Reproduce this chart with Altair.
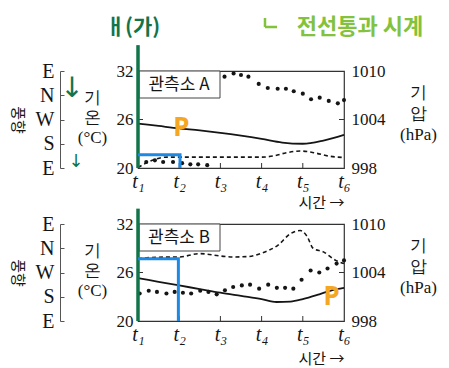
import altair as alt
import pandas as pd

# ---------------- data ----------------
t_ticks = [1, 2, 3, 4, 5, 6]
temp_ticks = [20, 26, 32]
pres_ticks = [998, 1004, 1010]
wind_names = ["E", "S", "W", "N", "E"]   # index 0..4, bottom to top

# Station A
a_temp_t = [1, 1.5, 2, 2.5, 3, 3.5, 4, 4.5, 5, 5.5, 6]
a_temp = [25.5, 25.2, 24.9, 24.65, 24.35, 24.0, 23.6, 23.15, 23.0, 23.4, 24.1]
a_wind_t = [1, 1.45, 1.7, 2, 3, 4, 4.3, 4.6, 4.95, 5.3, 5.6, 6]
a_wind = [0.02, 0.38, 0.45, 0.45, 0.45, 0.45, 0.5, 0.63, 0.7, 0.62, 0.5, 0.43]
a_pres_t = [1.2, 1.41, 1.61, 1.85, 2.07, 2.27, 2.46, 2.68,
            3.1, 3.32, 3.5, 3.68, 3.93, 4.15, 4.39, 4.59, 4.78, 5.0, 5.2, 5.41, 5.63, 5.85, 6.0]
a_pres = [998.75, 998.95, 998.75, 998.75, 998.6, 998.45, 998.45, 998.35,
          1009.3, 1009.7, 1009.5, 1009.3, 1008.4, 1007.9, 1007.8, 1007.8, 1007.5, 1007.2,
          1006.5, 1006.7, 1006.3, 1006.0, 1006.4]

# Station B
b_temp_t = [1, 1.5, 2, 2.5, 3, 3.5, 4, 4.36, 4.7, 5, 5.4, 5.7, 6]
b_temp = [25.3, 24.85, 24.4, 23.95, 23.5, 23.1, 22.7, 22.35, 22.4, 22.7, 23.3, 23.8, 24.1]
b_wind_t = [1, 1.46, 2.0, 2.5, 3.0, 3.3, 3.7, 4.0, 4.4, 4.7, 4.94, 5.1, 5.25, 5.5, 5.8, 6.0]
b_wind = [2.57, 2.63, 2.64, 2.78, 2.68, 2.64, 2.66, 2.8, 3.13, 3.6, 3.73, 3.5, 3.0, 2.85, 2.5, 2.37]
b_pres_t = [1.04, 1.26, 1.46, 1.69, 1.89, 2.09, 2.29, 2.51, 2.71, 2.91, 3.11, 3.31, 3.52,
            3.72, 3.94, 4.16, 4.37, 4.57, 4.77, 4.97, 5.19, 5.40, 5.60, 5.82, 6.0]
b_pres = [1001.4, 1001.75, 1001.6, 1001.4, 1001.6, 1001.5, 1001.4, 1001.75, 1001.6, 1001.3,
          1001.8, 1002.2, 1002.4, 1002.5, 1002.0, 1002.5, 1002.1, 1002.1, 1002.0, 1003.1,
          1004.25, 1004.0, 1004.5, 1005.1, 1005.5]

# hand-drawn marks (in data units)
a_blue_t = [1, 2.02, 2.02]
a_blue_v = [21.65, 21.65, 20]
b_blue_t = [1, 1.98, 1.98]
b_blue_v = [27.7, 27.7, 20]
a_green = [20, 35.2]
b_green = [20, 33.9]
a_p = (2.05, 25.0)
b_p = (5.7, 23.0)

# ---------------- style ----------------
W, H = 206, 97
SERIF = "Liberation Serif"
KR = "Noto Sans CJK KR"
INK = "#151515"
GREEN = "#12744a"
LGREEN = "#82c23c"
BLUE = "#1e88e5"
ORANGE = "#f5a623"

xscale = alt.Scale(domain=[1, 6], nice=False, zero=False)
tscale = alt.Scale(domain=[20, 32], nice=False, zero=False)
pscale = alt.Scale(domain=[998, 1010], nice=False, zero=False)
wscale = alt.Scale(domain=[0, 4], nice=False, zero=False)
one = pd.DataFrame({"k": [0]})


def panel(name, temp_t, temp_v, wind_t, wind_v, pres_t, pres_v,
          blue_t, blue_v, green_v, p_pos, xtitle_y, top_notes):
    x_axis = alt.Axis(values=t_ticks, ticks=False, domain=False, grid=False,
                      labelExpr="'t' + ['', '\u2081', '\u2082', '\u2083', '\u2084', '\u2085', '\u2086'][datum.value]",
                      labelFlush=False, labelFont=SERIF, labelFontStyle="italic",
                      labelFontSize=20, labelPadding=3, labelColor=INK,
                      title="시간 →", titleFont=KR, titleFontSize=15, titleFontWeight="normal",
                      titleColor=INK, titleX=W, titleY=xtitle_y, titleAlign="right",
                      titleBaseline="middle")
    xn = alt.X("t:Q", scale=xscale, axis=x_axis)

    pres = alt.Chart(pd.DataFrame({"t": pres_t, "p": pres_v})).mark_circle(
        size=17, color=INK, opacity=1).encode(
        x=xn,
        y=alt.Y("p:Q", scale=pscale, axis=alt.Axis(
            orient="right", values=pres_ticks, format="d", ticks=False, domain=False, grid=False,
            labelFont=SERIF, labelFontSize=17, labelColor=INK, labelPadding=7,
            labelBaseline="middle",
            title=["기", "압", "(hPa)"], titleAngle=0, titleX=74, titleY=13,
            titleAlign="center", titleBaseline="top", titleLineHeight=21,
            titleFont=SERIF, titleFontSize=17, titleFontWeight="normal", titleColor=INK)))

    wind = alt.Chart(pd.DataFrame({"t": wind_t, "w": wind_v})).mark_line(
        color=INK, strokeWidth=1.6, strokeDash=[4, 3], interpolate="monotone").encode(
        x=xn,
        y=alt.Y("w:Q", scale=wscale, axis=alt.Axis(
            orient="right", offset=-(W + 78), values=[0, 1, 2, 3, 4],
            labelExpr="['E','S','W','N','E'][datum.value]", labelOverlap=False,
            tickSize=4, tickColor="#555", domainColor="#555", grid=False,
            labelAlign="right", labelPadding=-10, labelBaseline="middle",
            labelFont=SERIF, labelFontSize=20, labelColor=INK,
            title="풍향", titleAngle=90, titleX=-43, titleY=H / 2,
            titleAlign="center", titleBaseline="middle",
            titleFont=KR, titleFontSize=15, titleFontWeight="normal", titleColor=INK)))

    temp = alt.Chart(pd.DataFrame({"t": temp_t, "v": temp_v})).mark_line(
        color=INK, strokeWidth=1.8, interpolate="monotone").encode(
        x=xn,
        y=alt.Y("v:Q", scale=tscale, axis=alt.Axis(
            orient="left", values=temp_ticks, ticks=False, domain=False, grid=False,
            labelFont=SERIF, labelFontSize=17, labelColor=INK, labelPadding=5,
            labelBaseline="middle",
            title=["기", "온", "(°C)"], titleAngle=0, titleX=-46, titleY=18,
            titleAlign="center", titleBaseline="top", titleLineHeight=20,
            titleFont=SERIF, titleFontSize=17, titleFontWeight="normal", titleColor=INK)))

    box = alt.Chart(one).mark_rect(fill="white", stroke="#444", strokeWidth=1).encode(
        x=alt.value(1), x2=alt.value(82), y=alt.value(0), y2=alt.value(27))
    box_text = alt.Chart(one).mark_text(
        text=name, font=KR, fontSize=17, color=INK, align="center", baseline="middle").encode(
        x=alt.value(41), y=alt.value(14))

    bticks = alt.Chart(pd.DataFrame({"t": [2, 3, 4, 5]})).mark_rule(
        color="#333", strokeWidth=1).encode(x=xn, y=alt.value(H), y2=alt.value(H - 5))
    lt = alt.Chart(one).mark_rule(color="#333").encode(
        x=alt.value(0), x2=alt.value(5), y=alt.Y(datum=26, scale=tscale, axis=None))
    rt = alt.Chart(one).mark_rule(color="#333").encode(
        x=alt.value(W - 5), x2=alt.value(W), y=alt.Y(datum=1004, scale=pscale, axis=None))

    green = alt.Chart(pd.DataFrame({"t": [1], "lo": [green_v[0]], "hi": [green_v[1]]})).mark_rule(
        color=GREEN, strokeWidth=3.5).encode(
        x=xn, y=alt.Y("lo:Q", scale=tscale, axis=None), y2="hi:Q")
    blue = alt.Chart(pd.DataFrame({"t": blue_t, "v": blue_v, "o": [0, 1, 2]})).mark_line(
        color=BLUE, strokeWidth=3).encode(
        x=xn, y=alt.Y("v:Q", scale=tscale, axis=None), order="o:Q")
    pmark = alt.Chart(pd.DataFrame({"t": [p_pos[0]], "v": [p_pos[1]]})).mark_text(
        text="P", font="Noto Sans", fontSize=26, fontWeight="bold", color=ORANGE).encode(
        x=xn, y=alt.Y("v:Q", scale=tscale, axis=None))

    layers = [pres, wind, temp, box, box_text, bticks, lt, rt, green, blue, pmark]

    if top_notes:
        arrow1 = alt.Chart(one).mark_text(text="↓", font="DejaVu Sans", fontSize=28,
                                           color=GREEN).encode(
            x=alt.value(-66), y=alt.value(18))
        arrow2 = alt.Chart(one).mark_text(text="↓", font="DejaVu Sans", fontSize=18,
                                           color=GREEN).encode(
            x=alt.value(-62), y=alt.value(91))
        note1 = alt.Chart(one).mark_text(text="ㅐ(가)", font=KR, fontSize=21, fontWeight="bold",
                                          color=GREEN, baseline="top").encode(
            x=alt.value(-5), y=alt.value(-54))
        note2 = alt.Chart(one).mark_text(text="전선통과 시계", font=KR, fontSize=22,
                                          fontWeight="bold", color=LGREEN, baseline="top").encode(
            x=alt.value(222), y=alt.value(-54))
        hook1 = alt.Chart(one).mark_rule(color=LGREEN, strokeWidth=2.5).encode(
            x=alt.value(127), y=alt.value(-53), y2=alt.value(-44))
        hook2 = alt.Chart(one).mark_rule(color=LGREEN, strokeWidth=2.5).encode(
            x=alt.value(127), x2=alt.value(139), y=alt.value(-44))
        layers += [arrow1, arrow2, note1, note2, hook1, hook2]

    return alt.layer(*layers).resolve_scale(y="independent").properties(width=W, height=H)


pa = panel("관측소 A", a_temp_t, a_temp, a_wind_t, a_wind, a_pres_t, a_pres,
           a_blue_t, a_blue_v, a_green, a_p, 34, True)
pb = panel("관측소 B", b_temp_t, b_temp, b_wind_t, b_wind, b_pres_t, b_pres,
           b_blue_t, b_blue_v, b_green, b_p, 37, False)

chart = alt.vconcat(pa, pb, spacing=-5).configure(
    padding={"left": 0, "top": 7, "right": 0, "bottom": 0},
    background="white",
).configure_view(stroke="#333", strokeWidth=1.2)

chart.save("out.html", embed_options={"renderer": "svg", "actions": False})
